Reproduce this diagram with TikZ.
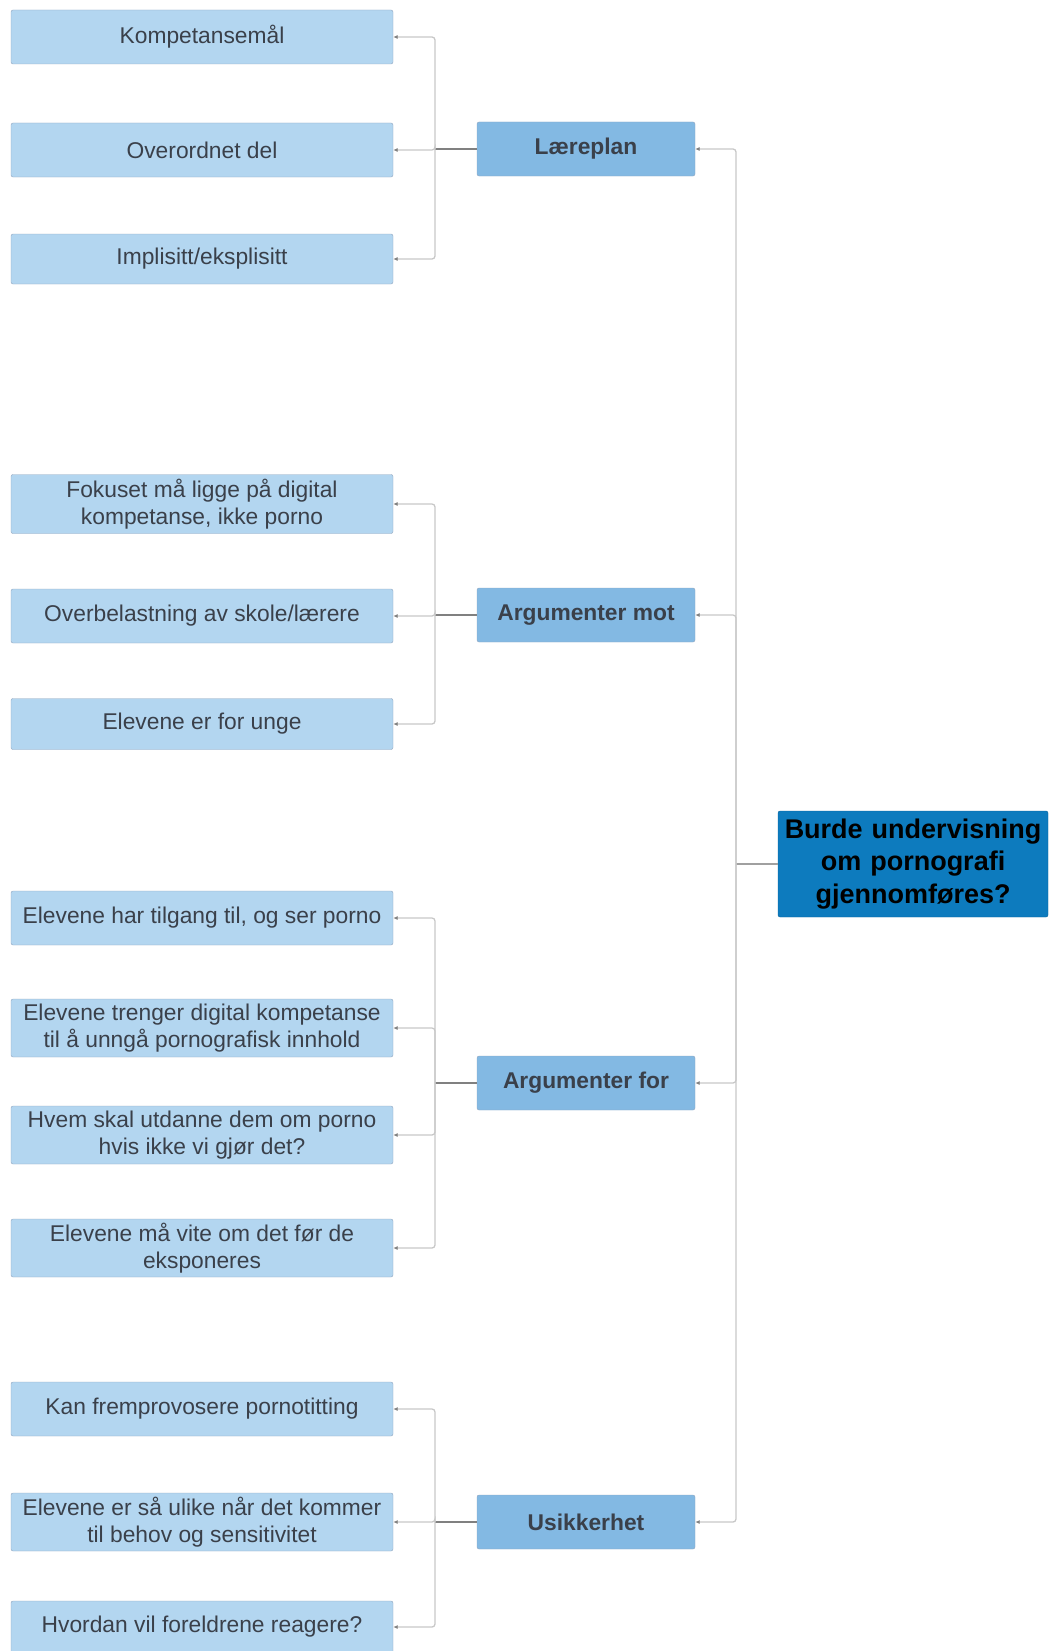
\documentclass[tikz,border=0pt]{standalone}
\usepackage{fontspec}
\setmainfont{Liberation Sans}
\usetikzlibrary{arrows.meta, positioning}
\definecolor{cLeaf}{RGB}{179,214,240}
\definecolor{cLeafEdge}{RGB}{145,165,190}
\definecolor{cTopic}{RGB}{131,185,227}
\definecolor{cRoot}{RGB}{13,123,190}
\definecolor{cText}{RGB}{58,64,74}
\definecolor{cLink}{RGB}{200,200,200}
\definecolor{cStem}{RGB}{128,128,128}
\tikzset{
	leaf/.style  ={rectangle, rounded corners=2pt, draw=cLeafEdge, fill=cLeaf, minimum width=382pt, minimum height=54pt, inner sep=2pt, align=center, text=cText, font=\fontsize{22.8}{27.3}\selectfont},
	topic/.style ={rectangle, rounded corners=2pt, draw=cLeafEdge, fill=cTopic, minimum width=218pt, minimum height=54pt, align=center, text=cText, font=\bfseries\fontsize{22.8}{27.3}\selectfont},
	rootbox/.style={rectangle, rounded corners=2pt, draw=cRoot!80!black, fill=cRoot, minimum width=270pt, minimum height=106pt, text width=260pt, align=center, text=black, font=\bfseries\fontsize{27}{32.5}\selectfont},
	% connectors
	link/.style  ={draw=cLink, line width=1.3pt, rounded corners=3pt, -{Latex[length=4.5pt, width=4pt, color=cStem]}},
	stem/.style  ={draw=cStem, line width=1.3pt},
	trunk/.style ={draw=cLink!80!black, line width=1.3pt},
}
\begin{document}
\begin{tikzpicture}[x=1pt, y=-1pt]
	\useasboundingbox (0,0) rectangle (1051,1651);
	% root
	\node[rootbox] (root) at (913,864) {Burde undervisning\\om pornografi\\gjennomføres?};
	% topics
	\node[topic] (lp)  at (586,149)  {Læreplan};
	\node[topic] (mot) at (586,615)  {Argumenter mot};
	\node[topic] (for) at (586,1083) {Argumenter for};
	\node[topic] (usi) at (586,1522) {Usikkerhet};
	% leaves
	\node[leaf] (lp1)  at (202,37)   {Kompetansemål};
	\node[leaf] (lp2)  at (202,150)  {Overordnet del};
	\node[leaf, minimum height=50pt] (lp3) at (202,259) {Implisitt/eksplisitt};
	\node[leaf, minimum height=59pt] (mot1) at (202,504) {Fokuset må ligge på digital\\kompetanse, ikke porno};
	\node[leaf] (mot2) at (202,616)  {Overbelastning av skole/lærere};
	\node[leaf, minimum height=51pt] (mot3) at (202,724) {Elevene er for unge};
	\node[leaf] (for1) at (202,918)  {Elevene har tilgang til, og ser porno};
	\node[leaf, minimum height=58pt] (for2) at (202,1028) {Elevene trenger digital kompetanse\\til å unngå pornografisk innhold};
	\node[leaf, minimum height=58pt] (for3) at (202,1135) {Hvem skal utdanne dem om porno\\hvis ikke vi gjør det?};
	\node[leaf, minimum height=58pt] (for4) at (202,1248) {Elevene må vite om det før de\\eksponeres};
	\node[leaf] (usi1) at (202,1409) {Kan fremprovosere pornotitting};
	\node[leaf, minimum height=58pt] (usi2) at (202,1522) {Elevene er så ulike når det kommer\\til behov og sensitivitet};
	\node[leaf, minimum height=52pt] (usi3) at (202,1627) {Hvordan vil foreldrene reagere?};
	% junctions
	\coordinate (jroot) at (736,864);
	\coordinate (jlp)  at (435,149);
	\coordinate (jmot) at (435,615);
	\coordinate (jfor) at (435,1083);
	\coordinate (jusi) at (435,1522);
	% root to topics
	\draw[trunk] (root.west) -- (jroot);
	\foreach \t in {lp,mot,for,usi} {\draw[link] (jroot) |- (\t.east);}
	% topics to leaves
	\foreach \t/\n in {lp/3,mot/3,for/4,usi/3} {
		\draw[stem] (\t.west) -- (j\t);
		\foreach \i in {1,...,\n} {\draw[link] (j\t) |- (\t\i.east);}
	}
\end{tikzpicture}
\end{document}
